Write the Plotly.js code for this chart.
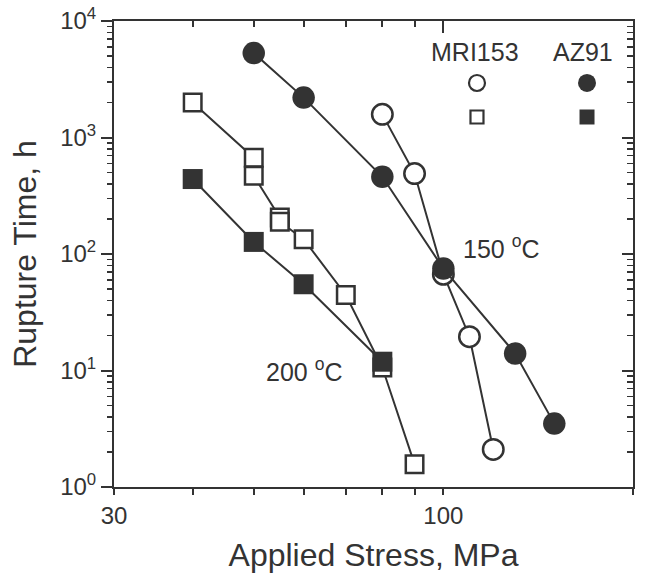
<!DOCTYPE html>
<html>
<head>
<meta charset="utf-8">
<script src="https://cdn.plot.ly/plotly-3.0.1.min.js"></script>
<style>html,body{margin:0;padding:0;background:#fff;}#chart{width:652px;height:573px;}</style>
</head>
<body>
<div id="chart"></div>
<script>
// Data
const stressMRI150 = [80, 90, 100, 110, 120];
const timeMRI150   = [1580, 490, 67, 19.5, 2.1];
const stressAZ150  = [50, 60, 80, 100, 130, 150];
const timeAZ150    = [5300, 2200, 460, 75, 14, 3.5];
const stressMRI200 = [40, 50, 50, 55, 55, 60, 70, 80, 90];
const timeMRI200   = [2000, 670, 470, 206, 189, 134, 44.5, 10.6, 1.57];
const stressAZ200  = [40, 50, 60, 80];
const timeAZ200    = [440, 127, 55, 11.9];

const xTickVals = [30, 100, 200];
const xTickText = ['30', '100', '200'];
const xMinorVals = [40, 50, 60, 70, 80, 90];
const yTickVals = [1, 10, 100, 1000, 10000];
const yTickText = ['10<sup>0</sup>', '10<sup>1</sup>', '10<sup>2</sup>', '10<sup>3</sup>', '10<sup>4</sup>'];
const yMinorVals = [];
for (let d = 0; d < 4; d++) for (let m = 2; m <= 9; m++) yMinorVals.push(m * Math.pow(10, d));

const ink = '#333333';
const FONT = 'Liberation Sans, Arial, Helvetica, sans-serif';

function openTrace(x, y, sym, size, ax) {
  return {x: x, y: y, type: 'scatter', mode: 'lines+markers', xaxis: ax[0], yaxis: ax[1],
    line: {color: ink, width: 2},
    marker: {symbol: sym, size: size, color: '#ffffff', line: {color: ink, width: 2.5}},
    showlegend: false, hoverinfo: 'skip'};
}
function filledTrace(x, y, sym, size, ax) {
  return {x: x, y: y, type: 'scatter', mode: 'lines+markers', xaxis: ax[0], yaxis: ax[1],
    line: {color: ink, width: 2},
    marker: {symbol: sym, size: size, color: ink, line: {color: ink, width: 0}},
    showlegend: false, hoverinfo: 'skip'};
}

const traces = [
  openTrace(stressMRI200, timeMRI200, 'square', 17.5, ['x', 'y']),
  openTrace(stressMRI150, timeMRI150, 'circle', 20.5, ['x', 'y']),
  filledTrace(stressAZ200, timeAZ200, 'square', 20, ['x2', 'y2']),
  filledTrace(stressAZ150, timeAZ150, 'circle', 22.5, ['x2', 'y2'])
];

const xr = [Math.log10(30), Math.log10(200)];
const yr = [0, 4];
const tickFont = {family: FONT, size: 24, color: ink};

const layout = {
  width: 652, height: 573,
  margin: {l: 114, r: 19, t: 21, b: 86},
  paper_bgcolor: '#ffffff', plot_bgcolor: '#ffffff',
  font: {family: FONT, color: ink},
  showlegend: false,
  xaxis: {
    type: 'log', range: xr, fixedrange: true,
    tickmode: 'array', tickvals: xTickVals, ticktext: xTickText,
    ticks: 'outside', ticklen: 6, tickwidth: 2, tickcolor: ink,
    minor: {tickmode: 'array', tickvals: xMinorVals, ticks: 'outside', ticklen: 6, tickwidth: 2, tickcolor: ink, showgrid: false},
    showline: true, linewidth: 2, linecolor: ink, showgrid: false, zeroline: false,
    tickfont: tickFont,
    title: {text: 'Applied Stress, MPa', font: {family: FONT, size: 32, color: ink}, standoff: 20}
  },
  yaxis: {
    type: 'log', range: yr, fixedrange: true,
    tickmode: 'array', tickvals: yTickVals, ticktext: yTickText,
    ticks: 'outside', ticklen: 11, tickwidth: 2, tickcolor: ink,
    minor: {tickmode: 'array', tickvals: yMinorVals, ticks: 'outside', ticklen: 5, tickwidth: 1.5, tickcolor: ink, showgrid: false},
    showline: true, linewidth: 2, linecolor: ink, showgrid: false, zeroline: false,
    tickfont: tickFont,
    title: {text: 'Rupture Time, h', font: {family: FONT, size: 32, color: ink}, standoff: 14}
  },
  xaxis2: {
    type: 'log', range: xr, overlaying: 'x', side: 'top', anchor: 'y', fixedrange: true,
    tickmode: 'array', tickvals: [100], ticks: 'inside', ticklen: 12, tickwidth: 2, tickcolor: ink,
    minor: {tickmode: 'array', tickvals: xMinorVals, ticks: 'inside', ticklen: 6, tickwidth: 2, tickcolor: ink, showgrid: false},
    showticklabels: false, showline: true, linewidth: 2, linecolor: ink, showgrid: false, zeroline: false
  },
  yaxis2: {
    type: 'log', range: yr, overlaying: 'y', side: 'right', anchor: 'x', fixedrange: true,
    tickmode: 'array', tickvals: yTickVals, ticks: 'inside', ticklen: 11, tickwidth: 2, tickcolor: ink,
    minor: {tickmode: 'array', tickvals: yMinorVals, ticks: 'inside', ticklen: 6, tickwidth: 1.5, tickcolor: ink, showgrid: false},
    showticklabels: false, showline: true, linewidth: 2, linecolor: ink, showgrid: false, zeroline: false
  },
  shapes: [
    // longer bottom tick at 100
    {type: 'line', xref: 'x', x0: 2, x1: 2, yref: 'paper', ysizemode: 'pixel', yanchor: 0, y0: 0, y1: -13,
     line: {color: ink, width: 2}},
    // legend symbols
    {type: 'circle', xref: 'paper', yref: 'paper', xsizemode: 'pixel', ysizemode: 'pixel',
     xanchor: 0.6994, yanchor: 0.867, x0: -8, x1: 8, y0: -8, y1: 8,
     fillcolor: '#ffffff', line: {color: ink, width: 2.2}},
    {type: 'circle', xref: 'paper', yref: 'paper', xsizemode: 'pixel', ysizemode: 'pixel',
     xanchor: 0.9114, yanchor: 0.867, x0: -9, x1: 9, y0: -9, y1: 9,
     fillcolor: ink, line: {color: ink, width: 0}},
    {type: 'rect', xref: 'paper', yref: 'paper', xsizemode: 'pixel', ysizemode: 'pixel',
     xanchor: 0.6994, yanchor: 0.794, x0: -6.5, x1: 6.5, y0: -6.5, y1: 6.5,
     fillcolor: '#ffffff', line: {color: ink, width: 2.2}},
    {type: 'rect', xref: 'paper', yref: 'paper', xsizemode: 'pixel', ysizemode: 'pixel',
     xanchor: 0.9114, yanchor: 0.794, x0: -7.5, x1: 7.5, y0: -7.5, y1: 7.5,
     fillcolor: ink, line: {color: ink, width: 0}}
  ],
  annotations: [
    {text: 'MRI153', xref: 'paper', yref: 'paper', x: (475 - 114) / 519, y: (487 - 52) / 466,
     xanchor: 'center', yanchor: 'middle', showarrow: false, font: {family: FONT, size: 25, color: ink}},
    {text: 'AZ91', xref: 'paper', yref: 'paper', x: (583 - 114) / 519, y: (487 - 52) / 466,
     xanchor: 'center', yanchor: 'middle', showarrow: false, font: {family: FONT, size: 25, color: ink}},
    {text: '150 <sup>o</sup>C', xref: 'paper', yref: 'paper', x: (501 - 114) / 519, y: (487 - 247) / 466,
     xanchor: 'center', yanchor: 'middle', showarrow: false, font: {family: FONT, size: 25, color: ink}},
    {text: '200 <sup>o</sup>C', xref: 'paper', yref: 'paper', x: (304 - 114) / 519, y: (487 - 370) / 466,
     xanchor: 'center', yanchor: 'middle', showarrow: false, font: {family: FONT, size: 25, color: ink}}
  ]
};

Plotly.newPlot('chart', traces, layout, {staticPlot: true, displayModeBar: false});
</script>
</body>
</html>
